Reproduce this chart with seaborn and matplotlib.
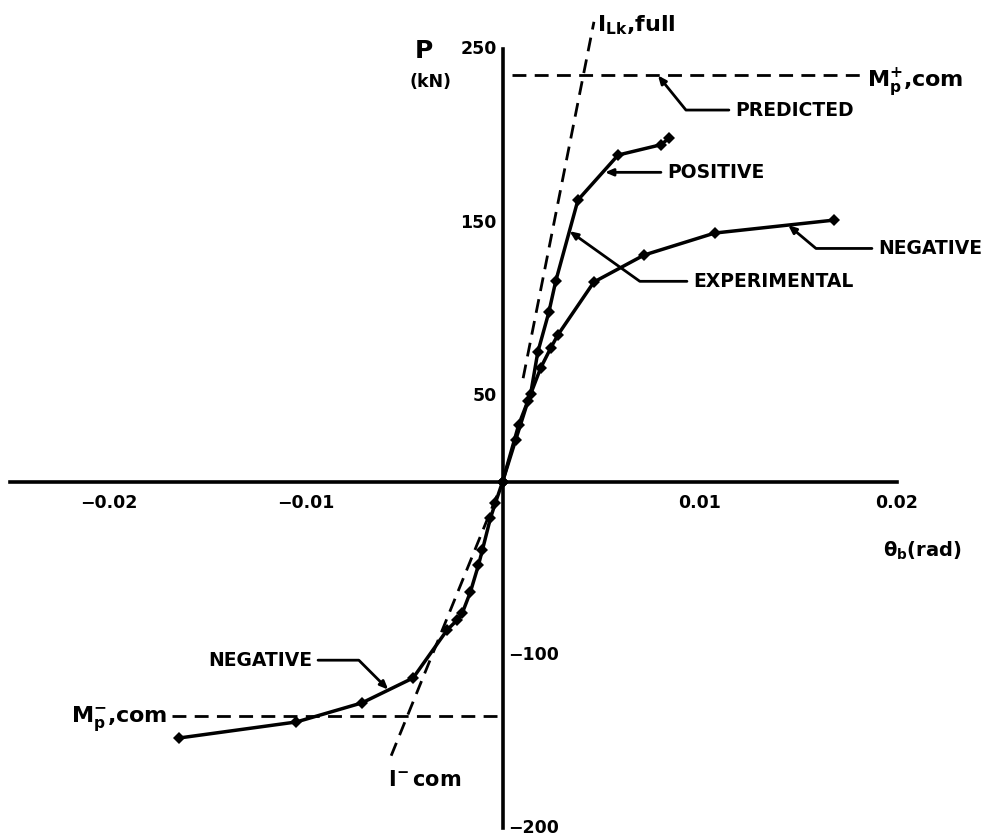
import numpy as np
import pandas as pd
import matplotlib
matplotlib.use("Agg")
import matplotlib.pyplot as plt
import seaborn as sns

# ---- measured moment-rotation response (rotation in rad, load in kN) ----
pos_theta = [0.0, 0.00082, 0.00143, 0.00179, 0.00235, 0.0027, 0.00383, 0.00587, 0.00806, 0.00847]
pos_load = [0.0, 33, 51, 75, 98, 116, 163, 189, 195, 199]

neg_up_theta = [0.0, 0.00066, 0.0013, 0.00194, 0.00245, 0.00281, 0.00464, 0.00719, 0.01077, 0.01684]
neg_up_load = [0.0, 24, 47, 66, 77.5, 85, 115.6, 131.2, 143.9, 151.4]

neg_theta = [0.0, -0.00036, -0.00061, -0.00102, -0.00122, -0.00163, -0.00204, -0.0023,
             -0.00281, -0.00454, -0.00714, -0.01046, -0.01643]
neg_load = [0.0, -12.1, -20.8, -39.3, -48, -63.6, -75.7, -79.8, -85.5, -113.3, -127.7, -138.7, -148]

# ---- predicted stiffness lines and plastic capacities ----
k_full = 57300.0            # kN/rad, I_Lk,full
k_full_range = [60, 266]    # kN
k_com = 28000.0             # kN/rad, I-com
k_com_range = [-8, -162]    # kN
mp_pos = 235.0              # kN
mp_pos_range = [0.0005, 0.0184]
mp_neg = -135.5             # kN
mp_neg_range = [-0.0168, -0.0003]

# ---- axis ticks ----
x_ticks = list(np.round(np.arange(-0.025, 0.0201, 0.005), 3))
x_label_vals = [-0.02, -0.01, 0.01, 0.02]
x_label_txt = ["\u22120.02", "\u22120.01", "0.01", "0.02"]
y_ticks = list(range(-200, 251, 50))
y_label_left = [250, 150, 50]
y_label_right = [-100, -200]

sns.set_style("white")
plt.rcParams["font.family"] = ["DejaVu Sans"]
plt.rcParams["font.weight"] = "bold"
plt.rcParams["mathtext.default"] = "bf"
plt.rcParams["text.color"] = "black"

fig = plt.figure(figsize=(9.89, 8.38), dpi=100)
ax = fig.add_axes([0, 0, 1, 1])
ax.set_xlim(-502.5 / 19700, 486.5 / 19700)
ax.set_ylim((482 - 838) / 1.73, 482 / 1.73)

ink = "black"

# experimental curves
for th, ld in [(pos_theta, pos_load), (neg_up_theta, neg_up_load), (neg_theta, neg_load)]:
    df = pd.DataFrame({"theta": th, "load": ld})
    sns.lineplot(data=df, x="theta", y="load", sort=False, estimator=None, ax=ax,
                 color=ink, lw=2.5, marker="D", markersize=6, markeredgewidth=0)

# predicted dashed lines
dash = (0, (5, 3))
kf = pd.DataFrame({"load": k_full_range})
kf["theta"] = kf["load"] / k_full
sns.lineplot(data=kf, x="theta", y="load", sort=False, estimator=None, ax=ax,
             color=ink, lw=2.0, linestyle=dash)
kc = pd.DataFrame({"load": k_com_range})
kc["theta"] = kc["load"] / k_com
sns.lineplot(data=kc, x="theta", y="load", sort=False, estimator=None, ax=ax,
             color=ink, lw=2.0, linestyle=dash)
mpp = pd.DataFrame({"theta": mp_pos_range, "load": [mp_pos] * 2})
sns.lineplot(data=mpp, x="theta", y="load", sort=False, estimator=None, ax=ax,
             color=ink, lw=2.0, linestyle=dash)
mpn = pd.DataFrame({"theta": mp_neg_range, "load": [mp_neg] * 2})
sns.lineplot(data=mpn, x="theta", y="load", sort=False, estimator=None, ax=ax,
             color=ink, lw=2.0, linestyle=dash)

# axes crossing at the origin
for side in ["top", "right"]:
    ax.spines[side].set_visible(False)
ax.spines["left"].set_position(("data", 0))
ax.spines["bottom"].set_position(("data", 0))
ax.spines["left"].set_bounds(-200, 250)
ax.spines["bottom"].set_bounds(-0.025, 0.02)
for side in ["left", "bottom"]:
    ax.spines[side].set_linewidth(2.6)
    ax.spines[side].set_color(ink)
ax.set_xticks(x_ticks)
ax.set_yticks(y_ticks)
ax.set_xticklabels([])
ax.set_yticklabels([])
ax.tick_params(direction="inout", length=9, width=2.4, color=ink)
ax.set_xlabel("")
ax.set_ylabel("")
ax.grid(False)

tick_fs = 12.5
for v, t in zip(x_label_vals, x_label_txt):
    ax.text(v, -12, t, ha="center", va="center", fontsize=tick_fs, color=ink)
for v in y_label_left:
    ax.text(-0.0003, v, str(v), ha="right", va="center", fontsize=tick_fs, color=ink)
for v in y_label_right:
    ax.text(0.0003, v, "\u2212" + str(abs(v)), ha="left", va="center", fontsize=tick_fs, color=ink)

# axis titles
ax.text(-0.00398, 249, "P", ha="center", va="center", fontsize=18, color=ink)
ax.text(-0.00368, 231, "(kN)", ha="center", va="center", fontsize=12.5, color=ink)
ax.text(0.0193, -40, r"θ$_{b}$(rad)", ha="left", va="center", fontsize=14, color=ink)

# line identifiers
ax.text(0.0048, 264, r"I$_{Lk}$,full", ha="left", va="center", fontsize=16, color=ink)
ax.text(0.0185, 231, r"M$_{p}^{+}$,com", ha="left", va="center", fontsize=16, color=ink)
ax.text(-0.0170, -137.5, r"M$_{p}^{-}$,com", ha="right", va="center", fontsize=16, color=ink)
ax.text(-0.0058, -172, r"I$^{\!-}$com", ha="left", va="center", fontsize=15, color=ink)

# leaders
label_fs = 13.5
arrow = dict(arrowstyle="-|>,head_length=0.35,head_width=0.15", color=ink, lw=2.0,
             shrinkA=2, shrinkB=0)

def leader(text, xy, xytext, angle, ha="left"):
    props = dict(arrow)
    if angle is None:
        props["connectionstyle"] = "arc3"
    else:
        props["connectionstyle"] = f"angle,angleA=0,angleB={angle},rad=0"
    ax.annotate(text, xy=xy, xytext=xytext, ha=ha, va="center", fontsize=label_fs,
                color=ink, arrowprops=props)

leader("PREDICTED", (0.00789, mp_pos), (0.0118, 215), -51)
leader("POSITIVE", (0.0052, 179), (0.00835, 179), None)
leader("EXPERIMENTAL", (0.0034, 145), (0.00967, 116), -35.5)
leader("NEGATIVE", (0.0145, 148.5), (0.01906, 135), -40)
leader("NEGATIVE", (-0.0058, -120), (-0.00967, -103), -45, ha="right")

fig.savefig("out.png", dpi=100)
